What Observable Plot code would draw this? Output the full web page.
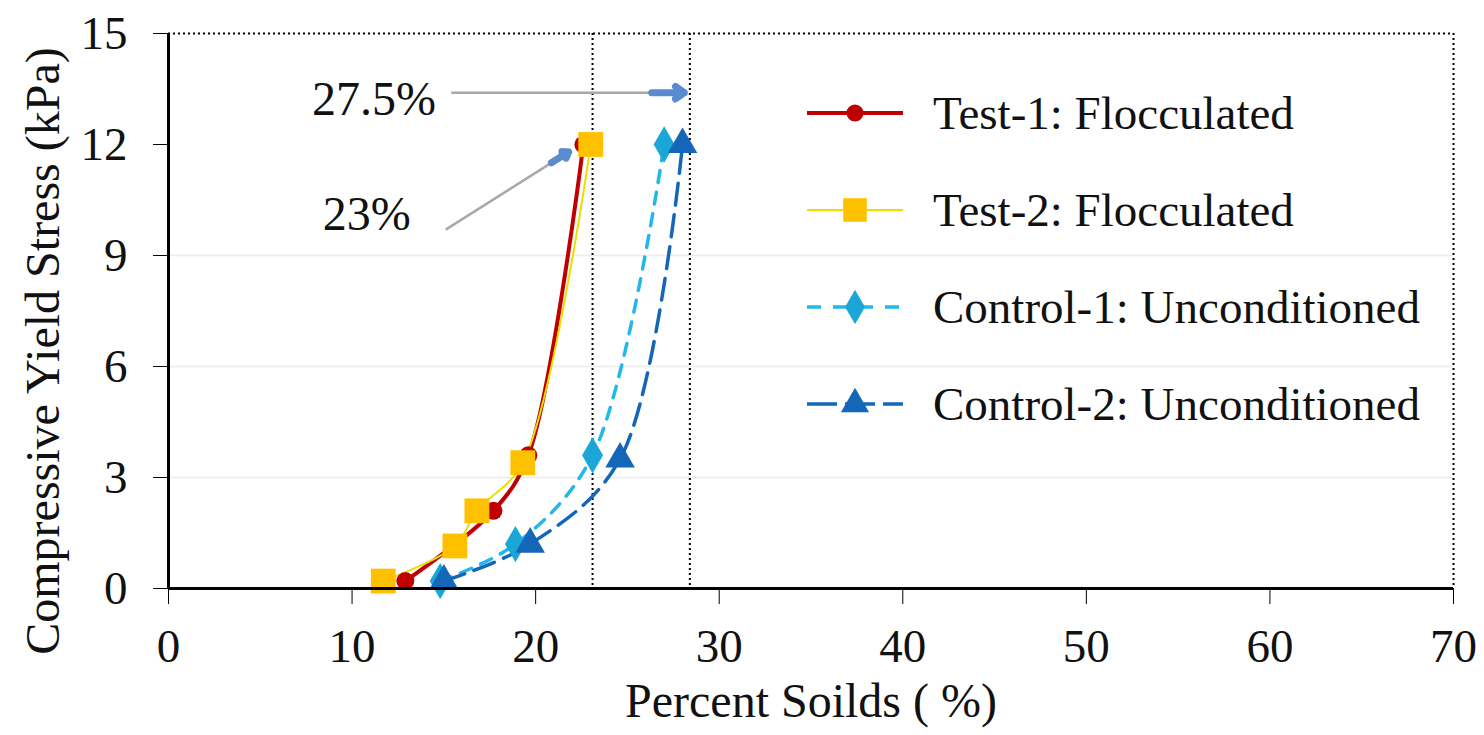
<!DOCTYPE html>
<html><head><meta charset="utf-8">
<script src="https://cdn.jsdelivr.net/npm/d3@7"></script>
<script src="https://cdn.jsdelivr.net/npm/@observablehq/plot@0.6"></script>
<style>
body{margin:0;background:#fff;}
#wrap{position:relative;width:1484px;height:735px;font-family:"Liberation Serif","Times New Roman",serif;}
#legend{position:absolute;left:805px;top:64px;}
.row{display:flex;align-items:center;height:97px;}
.row span{font-size:47px;color:#111;margin-left:28px;white-space:nowrap;}
</style>
</head><body>
<div id="wrap"><div id="chart"></div><div id="legend"></div></div>
<script>
// Series data: [percent solids, compressive yield stress]
const test1X = [12.9, 17.7, 19.6, 22.6];
const test1Y = [0.2, 2.1, 3.6, 12.0];
const test2X = [11.7, 15.6, 16.8, 19.3, 23.0];
const test2Y = [0.2, 1.15, 2.1, 3.4, 12.0];
const control1X = [14.8, 18.9, 23.1, 27.0];
const control1Y = [0.2, 1.2, 3.6, 12.0];
const control2X = [15.0, 19.7, 24.6, 28.0];
const control2Y = [0.2, 1.2, 3.5, 12.0];
const seriesNames = ["Test-1: Flocculated", "Test-2: Flocculated", "Control-1: Unconditioned", "Control-2: Unconditioned"];
const xTicks = [0, 10, 20, 30, 40, 50, 60, 70];
const yTicks = [0, 3, 6, 9, 12, 15];
const refLinesX = [23.1, 28.4];
const annotLabels = ["27.5%", "23%"];
const annotLabelX = [11.2, 10.8];
const annotLabelY = [13.2, 10.1];
const arrowX1 = [15.4, 15.1];
const arrowY1 = [13.4, 9.7];
const arrowX2 = [28.1, 21.8];
const arrowY2 = [13.4, 11.8];

const styles = [
  {color: "#c00000", line: "#c00000", width: 4, dash: null, symbol: "circle", r: 9},
  {color: "#ffc000", line: "#e8e000", width: 2, dash: null, symbol: "square", r: 14},
  {color: "#1aa7d8", line: "#22b8ec", width: 3.5, dash: "12,10", symbol: "diamond", r: 11},
  {color: "#1466b8", line: "#1466b8", width: 3.5, dash: "22,10", symbol: "triangle", r: 11}
];
const xs = [test1X, test2X, control1X, control2X];
const ys = [test1Y, test2Y, control1Y, control2Y];
const series = xs.map((X, i) => X.map((x, j) => ({x, y: ys[i][j], s: seriesNames[i]})));
const arrows = arrowX1.map((x1, i) => ({x1, y1: arrowY1[i], x2: arrowX2[i], y2: arrowY2[i]}));
const heads = arrows.map(a => ({x1: a.x1 + (a.x2 - a.x1) * 0.86, y1: a.y1 + (a.y2 - a.y1) * 0.86, x2: a.x2, y2: a.y2}));
const labels = annotLabels.map((t, i) => ({t, x: annotLabelX[i], y: annotLabelY[i]}));

const marks = [
  Plot.gridY([3, 6, 9], {stroke: "#ececec", strokeOpacity: 1, strokeWidth: 1.5}),
  Plot.ruleY([15], {stroke: "#000", strokeWidth: 2, strokeDasharray: "2,3"}),
  Plot.ruleX([70], {stroke: "#000", strokeWidth: 2, strokeDasharray: "2,3"}),
  Plot.ruleX(refLinesX, {stroke: "#000", strokeWidth: 2, strokeDasharray: "2,3"}),
  Plot.link(arrows, {x1: "x1", y1: "y1", x2: "x2", y2: "y2", stroke: "#a8a8a8", strokeWidth: 2.5}),
  Plot.arrow(heads, {x1: "x1", y1: "y1", x2: "x2", y2: "y2", stroke: "#5a8ad0", strokeWidth: 7, headLength: 22, headAngle: 70}),
  Plot.text(labels, {x: "x", y: "y", text: "t", fontSize: 48, fill: "#111"})
];
series.forEach((d, i) => {
  const st = styles[i];
  marks.push(Plot.line(d, {x: "x", y: "y", stroke: st.line, strokeWidth: st.width, strokeDasharray: st.dash, curve: "catmull-rom"}));
});
series.forEach((d, i) => {
  const st = styles[i];
  marks.push(Plot.dot(d, {x: "x", y: "y", symbol: () => st.symbol, fill: st.color, stroke: "none", r: st.r}));
});
marks.push(
  Plot.ruleX([0], {stroke: "#000", strokeWidth: 3}),
  Plot.ruleY([0], {stroke: "#000", strokeWidth: 3}),
  Plot.axisX({ticks: xTicks, tickSize: 16, tickPadding: 24, fontSize: 47, label: null, stroke: "#000"}),
  Plot.axisY({ticks: yTicks, tickSize: 15, text: null, label: null, stroke: "#000"}),
  Plot.axisY({ticks: yTicks, tickSize: 0, tickPadding: 0, dx: -41, fontSize: 47, label: null}),
  Plot.text(["Percent Soilds ( %)"], {frameAnchor: "bottom", dy: 128, fontSize: 48, fill: "#111"}),
  Plot.text(["Compressive Yield Stress (kPa)"], {frameAnchor: "left", textAnchor: "middle", dx: -125, dy: 40, rotate: -90, fontSize: 48, fill: "#111"})
);

const chart = Plot.plot({
  width: 1484, height: 735,
  marginLeft: 168, marginRight: 31, marginTop: 33, marginBottom: 147,
  x: {domain: [0, 70]},
  y: {domain: [0, 15]},
  style: {fontFamily: "Liberation Serif, Times New Roman, serif", fontSize: "46px", color: "#111", background: "#fff", overflow: "visible"},
  marks
});
document.getElementById("chart").appendChild(chart);

// Legend
const leg = document.getElementById("legend");
seriesNames.forEach((name, i) => {
  const st = styles[i];
  const row = document.createElement("div");
  row.className = "row";
  const svg = d3.create("svg").attr("width", 100).attr("height", 34);
  svg.append("line").attr("x1", 2).attr("x2", 98).attr("y1", 17).attr("y2", 17)
    .attr("stroke", st.line).attr("stroke-width", st.width)
    .attr("stroke-dasharray", st.dash ? (i === 2 ? "14,12" : "30,8") : null);
  svg.append("path").attr("transform", "translate(50,17)")
    .attr("d", d3.symbol(st.symbol === "circle" ? d3.symbolCircle : st.symbol === "square" ? d3.symbolSquare : st.symbol === "diamond" ? d3.symbolDiamond : d3.symbolTriangle, Math.PI * (st.r * 0.95) ** 2)())
    .attr("fill", st.color);
  row.appendChild(svg.node());
  const sp = document.createElement("span");
  sp.textContent = name;
  row.appendChild(sp);
  leg.appendChild(row);
});
</script>
</body></html>
